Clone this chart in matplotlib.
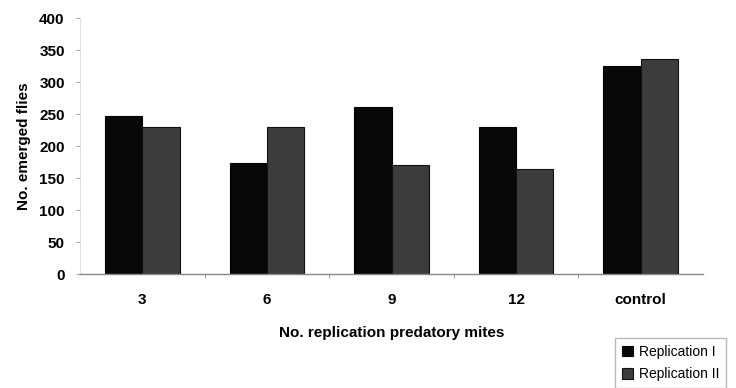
import matplotlib
matplotlib.use("Agg")
import matplotlib.pyplot as plt
import numpy as np

categories = ["3", "6", "9", "12", "control"]
rep1 = [247, 174, 261, 229, 325]
rep2 = [230, 230, 170, 164, 336]
series_names = ["Replication I", "Replication II"]
yticks = [0, 50, 100, 150, 200, 250, 300, 350, 400]

plt.rcParams['font.family'] = ['Liberation Sans', 'DejaVu Sans']

fig = plt.figure(figsize=(7.36, 3.88), dpi=100)
ax = fig.add_axes([80/736, 1-274/388, 623/736, 256/388])

x = np.arange(len(categories))
w = 0.30
ax.bar(x - w/2, rep1, w, color="#080808", edgecolor="#000000", linewidth=0.8, label=series_names[0])
ax.bar(x + w/2, rep2, w, color="#3c3c3c", edgecolor="#111111", linewidth=0.8, label=series_names[1])

ax.set_xlim(-0.5, len(categories) - 0.5)
ax.set_ylim(0, 400)
ax.set_yticks(yticks)
ax.set_yticklabels([str(t) for t in yticks], fontsize=11, fontweight='bold')
ax.set_xticks(x)
ax.set_xticklabels(categories, fontsize=11, fontweight='bold')
ax.tick_params(axis='x', length=0, pad=14)
ax.set_xticks(np.arange(0.5, len(categories) - 1, 1), minor=True)
ax.tick_params(axis='x', which='minor', length=3, color="#888888", direction='out')
ax.tick_params(axis='y', length=3, color="#aaaaaa", width=0.8, pad=8)

for s in ['top', 'right']:
    ax.spines[s].set_visible(False)
ax.spines['left'].set_color("#dddddd")
ax.spines['left'].set_linewidth(0.6)
ax.spines['bottom'].set_color("#888888")
ax.spines['bottom'].set_linewidth(1.0)

ax.set_xlabel("No. replication predatory mites", fontsize=11, fontweight='bold', labelpad=13)
ax.set_ylabel("No. emerged flies", fontsize=11, fontweight='bold', labelpad=6)

fig.legend(loc='upper right', bbox_to_anchor=(733/736, 1-331/388), fontsize=10,
           frameon=True, fancybox=False, edgecolor="#aaaaaa", handlelength=0.8,
           handleheight=0.8, handletextpad=0.4, borderpad=0.5, labelspacing=0.6)

fig.savefig("out.png", dpi=100)
